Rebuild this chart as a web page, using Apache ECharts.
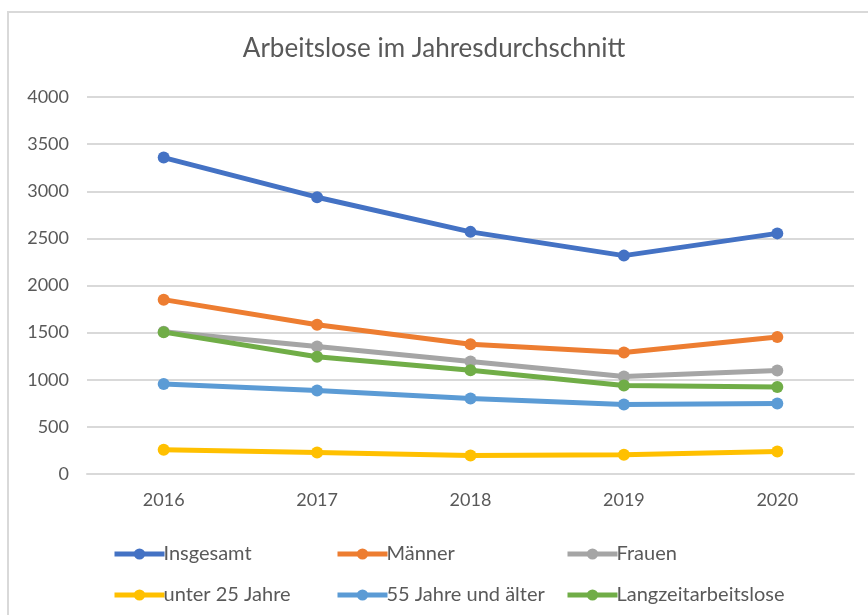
<!DOCTYPE html>
<html>
<head>
<meta charset="utf-8">
<script src="https://cdn.jsdelivr.net/npm/echarts@6/dist/echarts.min.js"></script>
<style>
  html, body { margin: 0; padding: 0; background: #fff; }
  #chart { width: 868px; height: 615px; }
</style>
</head>
<body>
<div id="chart"></div>
<script>
// Jahre und Werte
var years = ["2016", "2017", "2018", "2019", "2020"];
var insgesamt = [3357, 2937, 2569, 2317, 2553];
var maenner = [1850, 1584, 1377, 1289, 1454];
var frauen = [1510, 1352, 1194, 1035, 1098];
var unter25 = [257, 228, 196, 203, 239];
var ab55 = [955, 885, 800, 737, 748];
var langzeit = [1505, 1245, 1100, 940, 923];

var names = ["Insgesamt", "Männer", "Frauen", "unter 25 Jahre", "55 Jahre und älter", "Langzeitarbeitslose"];
var values = [insgesamt, maenner, frauen, unter25, ab55, langzeit];
var colors = ["#4472C4", "#ED7D31", "#A5A5A5", "#FFC000", "#5B9BD5", "#70AD47"];

var font = "Lato, 'Open Sans', sans-serif";
var textColor = "#595959";

// Legende: 3 Spalten, 2 Zeilen
var legendPos = [
  [107, 539], [330, 539], [560, 539],
  [107, 580], [330, 580], [560, 580]
];
var legends = names.map(function (n, i) {
  return {
    data: [n],
    left: legendPos[i][0],
    top: legendPos[i][1],
    itemWidth: 50,
    itemHeight: 14,
    itemGap: 0,
    lineStyle: { width: 5 },
    textStyle: { color: textColor, fontSize: 20, fontFamily: font, padding: [0, 0, 0, -6] },
    selectedMode: false
  };
});

var series = names.map(function (n, i) {
  return {
    name: n,
    type: "line",
    data: values[i],
    symbol: "circle",
    symbolSize: 12,
    lineStyle: { width: 5, color: colors[i] },
    itemStyle: { color: colors[i] },
    animation: false
  };
});

var myChart = echarts.init(document.getElementById("chart"));
var option = {
  backgroundColor: "#fff",
  title: {
    text: "Arbeitslose im Jahresdurchschnitt",
    left: "center",
    top: 31,
    textStyle: { color: textColor, fontSize: 26, fontWeight: "normal", fontFamily: font }
  },
  graphic: [{
    type: "rect",
    shape: { x: 8, y: 12, width: 900, height: 700 },
    style: { fill: "none", stroke: "#d9d9d9", lineWidth: 2 },
    silent: true
  }],
  legend: legends,
  grid: { left: 87, right: 14, top: 97, bottom: 141 },
  xAxis: {
    type: "category",
    data: years,
    axisLine: { lineStyle: { color: "#d9d9d9", width: 2 } },
    axisTick: { show: false },
    axisLabel: { color: textColor, fontSize: 18, fontFamily: font, margin: 17 }
  },
  yAxis: {
    type: "value",
    min: 0,
    max: 4000,
    interval: 500,
    axisLine: { show: false },
    axisTick: { show: false },
    axisLabel: {
      color: textColor, fontSize: 18, fontFamily: font, margin: 18,
      formatter: function (v) { return String(v); }
    },
    splitLine: { lineStyle: { color: "#d9d9d9", width: 2 } }
  },
  series: series
};
myChart.setOption(option);
</script>
</body>
</html>
